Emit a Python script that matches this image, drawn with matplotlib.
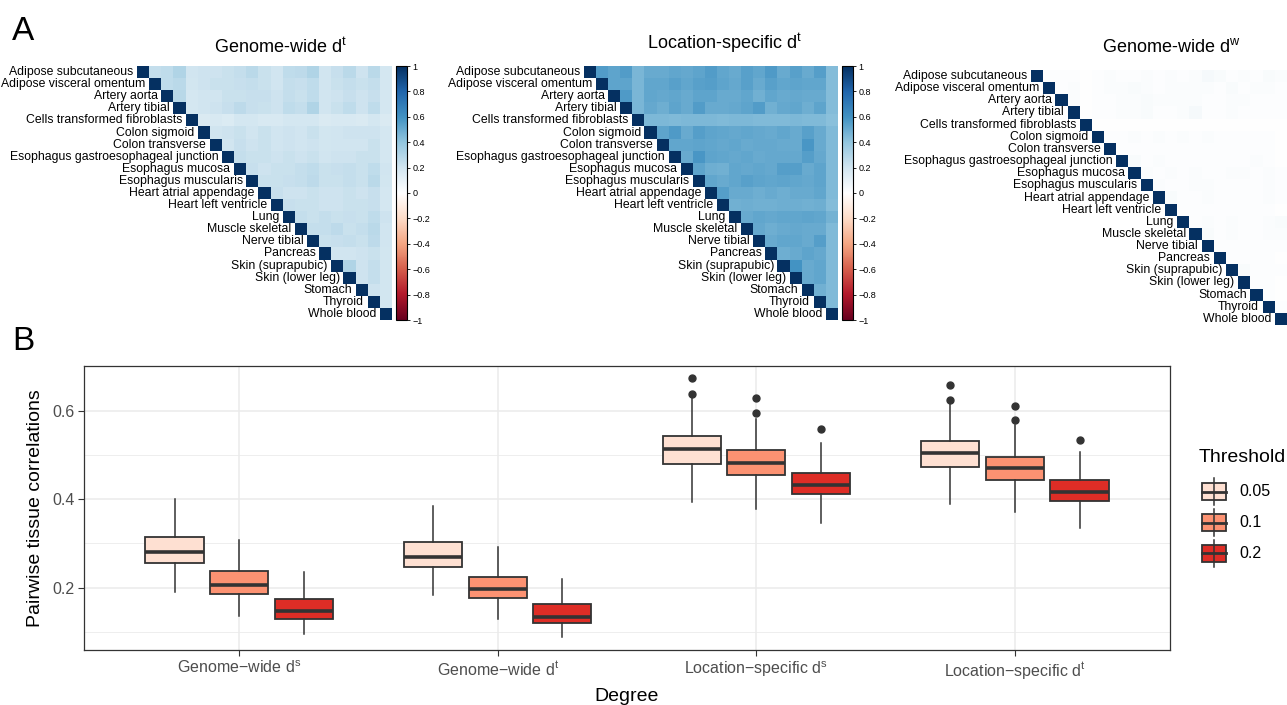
import numpy as np
import matplotlib
matplotlib.use("Agg")
import matplotlib.pyplot as plt
from matplotlib.colors import LinearSegmentedColormap
from matplotlib.patches import Rectangle

plt.rcParams['font.family'] = ['Liberation Sans', 'DejaVu Sans']
plt.rcParams['mathtext.fontset'] = 'custom'
plt.rcParams['mathtext.rm'] = 'Liberation Sans'
plt.rcParams['mathtext.it'] = 'Liberation Sans:italic'

tissues = ['Adipose subcutaneous', 'Adipose visceral omentum', 'Artery aorta', 'Artery tibial',
           'Cells transformed fibroblasts', 'Colon sigmoid', 'Colon transverse',
           'Esophagus gastroesophageal junction', 'Esophagus mucosa', 'Esophagus muscularis',
           'Heart atrial appendage', 'Heart left ventricle', 'Lung', 'Muscle skeletal',
           'Nerve tibial', 'Pancreas', 'Skin (suprapubic)', 'Skin (lower leg)', 'Stomach',
           'Thyroid', 'Whole blood']

# upper triangle of each correlation matrix, row by row (diagonal = 1)
gw_dt = [
    [0.24,0.25,0.30,0.20,0.21,0.21,0.22,0.24,0.27,0.22,0.20,0.25,0.26,0.30,0.20,0.23,0.27,0.21,0.27,0.18],
    [0.25,0.27,0.19,0.21,0.22,0.22,0.23,0.24,0.22,0.20,0.24,0.23,0.25,0.20,0.22,0.24,0.22,0.24,0.18],
    [0.28,0.18,0.20,0.20,0.22,0.22,0.23,0.23,0.21,0.24,0.22,0.25,0.20,0.21,0.23,0.21,0.23,0.18],
    [0.18,0.20,0.21,0.23,0.26,0.23,0.22,0.21,0.25,0.24,0.30,0.20,0.22,0.25,0.21,0.25,0.18],
    [0.16,0.17,0.15,0.18,0.18,0.17,0.17,0.18,0.18,0.18,0.16,0.17,0.17,0.16,0.18,0.16],
    [0.20,0.21,0.22,0.20,0.22,0.20,0.21,0.20,0.22,0.19,0.20,0.21,0.21,0.21,0.18],
    [0.20,0.23,0.21,0.22,0.20,0.21,0.20,0.21,0.19,0.20,0.20,0.20,0.22,0.18],
    [0.24,0.22,0.22,0.21,0.22,0.21,0.22,0.20,0.21,0.21,0.22,0.22,0.18],
    [0.23,0.21,0.22,0.22,0.24,0.25,0.22,0.23,0.24,0.22,0.25,0.20],
    [0.22,0.22,0.23,0.24,0.26,0.22,0.22,0.24,0.22,0.27,0.19],
    [0.23,0.21,0.21,0.22,0.21,0.21,0.22,0.21,0.23,0.18],
    [0.23,0.22,0.22,0.21,0.21,0.22,0.22,0.23,0.18],
    [0.24,0.22,0.24,0.22,0.23,0.22,0.25,0.21],
    [0.24,0.24,0.26,0.22,0.24,0.27,0.20],
    [0.22,0.23,0.24,0.22,0.26,0.20],
    [0.20,0.20,0.21,0.22,0.19],
    [0.30,0.21,0.24,0.19],
    [0.21,0.24,0.19],
    [0.21,0.19],
    [0.19],
]

ls_dt = [
    [0.56,0.53,0.56,0.46,0.50,0.50,0.52,0.51,0.53,0.56,0.52,0.50,0.54,0.52,0.57,0.50,0.54,0.50,0.55,0.43],
    [0.53,0.53,0.46,0.52,0.52,0.54,0.52,0.54,0.55,0.53,0.51,0.54,0.50,0.54,0.52,0.53,0.52,0.52,0.43],
    [0.57,0.46,0.52,0.51,0.52,0.50,0.53,0.53,0.50,0.50,0.52,0.48,0.52,0.50,0.51,0.50,0.50,0.43],
    [0.46,0.51,0.49,0.53,0.50,0.56,0.50,0.50,0.51,0.53,0.56,0.48,0.51,0.52,0.49,0.53,0.43],
    [0.45,0.45,0.44,0.45,0.45,0.45,0.44,0.45,0.45,0.44,0.44,0.44,0.45,0.44,0.44,0.42],
    [0.53,0.57,0.50,0.55,0.53,0.52,0.51,0.52,0.51,0.50,0.52,0.50,0.54,0.50,0.44],
    [0.52,0.52,0.53,0.52,0.51,0.52,0.50,0.51,0.51,0.50,0.50,0.58,0.50,0.44],
    [0.50,0.58,0.53,0.52,0.51,0.52,0.50,0.51,0.51,0.51,0.55,0.51,0.44],
    [0.53,0.49,0.48,0.52,0.51,0.52,0.51,0.55,0.55,0.50,0.53,0.44],
    [0.52,0.50,0.52,0.54,0.53,0.52,0.53,0.52,0.51,0.53,0.44],
    [0.55,0.50,0.50,0.49,0.50,0.49,0.50,0.50,0.52,0.44],
    [0.48,0.49,0.48,0.48,0.49,0.49,0.48,0.49,0.43],
    [0.50,0.52,0.51,0.52,0.52,0.53,0.52,0.47],
    [0.51,0.49,0.50,0.51,0.50,0.50,0.44],
    [0.50,0.52,0.52,0.50,0.55,0.44],
    [0.49,0.50,0.53,0.51,0.44],
    [0.60,0.50,0.52,0.44],
    [0.50,0.52,0.44],
    [0.48,0.44],
    [0.44],
]

gw_dw = [
    [0.01,0.01,0.01,0.00,0.01,0.02,0.01,0.01,0.02,0.01,0.02,0.01,0.02,0.04,0.03,0.01,0.02,0.01,0.03,0.02],
    [0.01,0.02,0.00,0.01,0.02,0.02,0.03,0.02,0.01,0.02,0.02,0.02,0.02,0.01,0.03,0.01,0.02,0.02,0.01],
    [0.02,0.00,0.01,0.01,0.02,0.02,0.03,0.02,0.02,0.02,0.02,0.01,0.01,0.02,0.02,0.01,0.01,0.01],
    [0.00,0.01,0.01,0.02,0.02,0.03,0.01,0.01,0.02,0.04,0.01,0.01,0.02,0.01,0.01,0.01,0.01],
    [0.00,0.00,0.00,0.00,0.00,0.00,0.00,0.00,0.00,0.00,0.00,0.00,0.00,0.00,0.00,0.00],
    [0.01,0.01,0.02,0.01,0.02,0.01,0.02,0.01,0.02,0.01,0.01,0.01,0.01,0.01,0.00],
    [0.01,0.01,0.01,0.01,0.01,0.01,0.01,0.01,0.01,0.01,0.01,0.01,0.01,0.00],
    [0.03,0.01,0.02,0.01,0.01,0.01,0.01,0.01,0.01,0.01,0.02,0.01,0.00],
    [0.02,0.01,0.02,0.01,0.02,0.01,0.01,0.02,0.02,0.01,0.02,0.01],
    [0.02,0.01,0.01,0.02,0.02,0.01,0.01,0.01,0.01,0.02,0.01],
    [0.03,0.01,0.01,0.02,0.01,0.01,0.01,0.01,0.02,0.01],
    [0.01,0.01,0.01,0.01,0.01,0.01,0.01,0.01,0.00],
    [0.01,0.02,0.01,0.02,0.01,0.01,0.02,0.03],
    [0.03,0.01,0.02,0.01,0.01,0.02,0.02],
    [0.01,0.01,0.01,0.01,0.01,0.01],
    [0.01,0.01,0.01,0.01,0.00],
    [0.03,0.01,0.01,0.01],
    [0.01,0.01,0.00],
    [0.01,0.00],
    [0.01],
]

heat_titles = ['Genome-wide d$^{\\mathrm{t}}$', 'Location-specific d$^{\\mathrm{t}}$',
               'Genome-wide d$^{\\mathrm{w}}$']

# panel B: boxplot summaries per degree (rows) and threshold (columns)
degrees = ['Genome\u2212wide d$^{\\mathrm{s}}$', 'Genome\u2212wide d$^{\\mathrm{t}}$',
           'Location\u2212specific d$^{\\mathrm{s}}$', 'Location\u2212specific d$^{\\mathrm{t}}$']
thresholds = ['0.05', '0.1', '0.2']
whislo = [[0.191, 0.136, 0.094], [0.183, 0.130, 0.089], [0.395, 0.377, 0.346], [0.389, 0.371, 0.336]]
q1 = [[0.256, 0.186, 0.128], [0.246, 0.177, 0.119], [0.481, 0.455, 0.412], [0.473, 0.444, 0.397]]
med = [[0.280, 0.206, 0.146], [0.270, 0.196, 0.134], [0.515, 0.482, 0.432], [0.506, 0.470, 0.417]]
q3 = [[0.315, 0.238, 0.175], [0.304, 0.225, 0.163], [0.543, 0.512, 0.460], [0.533, 0.497, 0.444]]
whishi = [[0.400, 0.308, 0.236], [0.386, 0.291, 0.219], [0.630, 0.582, 0.527], [0.617, 0.568, 0.508]]
fliers = [[[], [], []], [[], [], []],
          [[0.675, 0.638], [0.629, 0.595], [0.559]],
          [[0.660, 0.625], [0.612, 0.580], [0.534]]]
fills = ['#FEE0D2', '#FC9272', '#DE2D26']

W, H = 1287, 705
fig = plt.figure(figsize=(W / 100, H / 100), dpi=100)

def fx(px):
    return px / W

def fy(px):
    return 1 - px / H

corr_cmap = LinearSegmentedColormap.from_list(
    'corrplot', ['#67001F', '#B2182B', '#D6604D', '#F4A582', '#FDDBC7', '#FFFFFF',
                 '#D1E5F0', '#92C5DE', '#4393C3', '#2166AC', '#053061'])

def build_matrix(rows):
    n = len(rows) + 1
    m = np.full((n, n), np.nan)
    for i in range(n):
        m[i, i] = 1.0
    for i, r in enumerate(rows):
        m[i, i + 1:] = r
    return m

# (left, top, right, bottom) in pixels, colorbar left or None, title centre
heat_layout = [((137, 66, 392, 320), 396, (280, 47)),
               ((584, 66, 838, 320), 842, (724, 43)),
               ((1031, 70, 1287, 325), None, (1171, 47))]

for rows, title, (box, cbx, tpos) in zip([gw_dt, ls_dt, gw_dw], heat_titles, heat_layout):
    l, t, r, b = box
    ax = fig.add_axes([fx(l), fy(b), fx(r - l), fy(t) - fy(b)])
    m = build_matrix(rows)
    im = ax.imshow(m, cmap=corr_cmap, vmin=-1, vmax=1, aspect='auto', interpolation='nearest')
    ax.set_xlim(-0.5, len(tissues) - 0.5)
    ax.set_ylim(len(tissues) - 0.5, -0.5)
    ax.axis('off')
    for i, name in enumerate(tissues):
        ax.text(i - 0.8, i, name, ha='right', va='center', fontsize=8.8, clip_on=False)
    fig.text(fx(tpos[0]), fy(tpos[1]), title, ha='center', va='center', fontsize=13)
    if cbx is not None:
        cax = fig.add_axes([fx(cbx), fy(b), fx(11), fy(t) - fy(b)])
        cb = fig.colorbar(im, cax=cax, ticks=np.linspace(-1, 1, 11))
        cb.ax.set_yticklabels(['\u22121', '\u22120.8', '\u22120.6', '\u22120.4', '\u22120.2', '0',
                               '0.2', '0.4', '0.6', '0.8', '1'])
        cb.ax.tick_params(labelsize=6.5, length=2, width=0.6, pad=2)
        cb.outline.set_linewidth(0.8)

fig.text(fx(12), fy(40), 'A', fontsize=24, va='baseline')
fig.text(fx(12), fy(350), 'B', fontsize=24, va='baseline')

# panel B
ax = fig.add_axes([fx(84), fy(650), fx(1170 - 84), fy(366) - fy(650)])
ax.set_facecolor('white')
ax.set_axisbelow(True)
for g in range(len(degrees)):
    stats = []
    for k in range(len(thresholds)):
        stats.append(dict(med=med[g][k], q1=q1[g][k], q3=q3[g][k],
                          whislo=whislo[g][k], whishi=whishi[g][k], fliers=fliers[g][k]))
    pos = [g + 1 + (k - 1) * 0.25 for k in range(len(thresholds))]
    bp = ax.bxp(stats, positions=pos, widths=0.225, patch_artist=True, showcaps=False,
                boxprops=dict(edgecolor='#333333', linewidth=1.3),
                medianprops=dict(color='#333333', linewidth=2.6),
                whiskerprops=dict(color='#333333', linewidth=1.1),
                flierprops=dict(marker='o', markerfacecolor='#333333', markeredgecolor='#333333',
                                markersize=5))
    for patch, c in zip(bp['boxes'], fills):
        patch.set_facecolor(c)

ax.set_xlim(0.4, 4.6)
ax.set_ylim(0.0587, 0.702)
ax.set_xticks(range(1, len(degrees) + 1))
ax.set_xticklabels(degrees)
ax.set_yticks([0.2, 0.4, 0.6])
ax.set_yticklabels(['0.2', '0.4', '0.6'])
ax.set_yticks([0.1, 0.3, 0.5], minor=True)
ax.grid(True, which='major', color='#EBEBEB', linewidth=1.1)
ax.grid(True, which='minor', axis='y', color='#EBEBEB', linewidth=0.6)
ax.tick_params(which='major', length=4, width=0.8, color='#333333', labelcolor='#4D4D4D',
               labelsize=11.5, pad=3)
ax.tick_params(which='minor', length=0)
for sp in ax.spines.values():
    sp.set_color('#333333')
    sp.set_linewidth(0.9)
ax.set_xlabel('Degree', fontsize=14, labelpad=5)
ax.set_ylabel('Pairwise tissue correlations', fontsize=14, labelpad=6)

# legend drawn as boxplot keys
lax = fig.add_axes([fx(1195), fy(570), fx(92), fy(475) - fy(570)])
lax.set_xlim(0, 92)
lax.set_ylim(2.542, -0.542)
lax.axis('off')
for k, (lab, c) in enumerate(zip(thresholds, fills)):
    lax.plot([19, 19], [k - 0.44, k + 0.44], color='#333333', lw=1.1)
    lax.add_patch(Rectangle((7, k - 0.275), 24, 0.55, facecolor=c, edgecolor='#333333', lw=1.3))
    lax.plot([7, 31], [k, k], color='#333333', lw=2.0)
    lax.text(44, k, lab, va='center', ha='left', fontsize=11.5)
fig.text(fx(1199), fy(458), 'Threshold', fontsize=14, va='center', ha='left')

fig.savefig('out.png', dpi=100)
